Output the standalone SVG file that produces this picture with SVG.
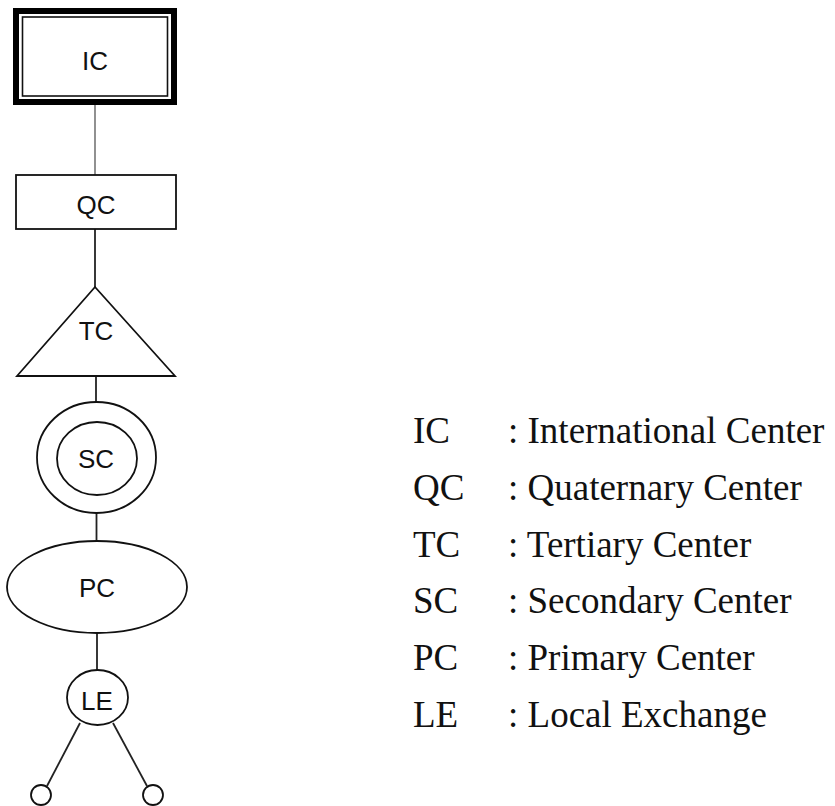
<svg xmlns="http://www.w3.org/2000/svg" width="835" height="806" viewBox="0 0 835 806">
<style>
.shape{fill:#fff;stroke:#111;stroke-width:1.8}
.lbl{font-family:"Liberation Sans",Arial,sans-serif;font-size:26px;fill:#111;text-anchor:middle}
.leg{font-family:"Liberation Serif","Times New Roman",serif;font-size:37px;fill:#111}
.conn line{stroke:#222;stroke-width:1.8}
</style>
<rect width="835" height="806" fill="#fff"/>
<g class="conn" id="connectors">
<line x1="95" y1="105" x2="95" y2="175" style="stroke:#555;stroke-width:1.3"/>
<line x1="95" y1="229" x2="95" y2="287"/>
<line x1="96" y1="376" x2="96" y2="402"/>
<line x1="96.5" y1="513" x2="96.5" y2="541"/>
<line x1="97" y1="633" x2="97" y2="670"/>
<line x1="80" y1="723" x2="47" y2="786"/>
<line x1="113" y1="723" x2="147" y2="786"/>
</g>
<g id="IC">
<rect x="16" y="11" width="158" height="91" fill="#fff" stroke="#000" stroke-width="6"/>
<rect x="22.5" y="17" width="145" height="79" fill="none" stroke="#111" stroke-width="1.6"/>
<text class="lbl" x="95" y="70">IC</text>
</g>
<g id="QC">
<rect class="shape" x="16" y="175" width="160" height="54"/>
<text class="lbl" x="96" y="214">QC</text>
</g>
<g id="TC">
<polygon class="shape" points="95,287 175,376 17,376"/>
<text class="lbl" x="96" y="340">TC</text>
</g>
<g id="SC">
<ellipse class="shape" cx="96.5" cy="457.5" rx="59.5" ry="55.5"/>
<ellipse class="shape" cx="97" cy="458.5" rx="40" ry="36.5"/>
<text class="lbl" x="96" y="468">SC</text>
</g>
<g id="PC">
<ellipse class="shape" cx="97" cy="587" rx="90" ry="46"/>
<text class="lbl" x="97" y="597">PC</text>
</g>
<g id="LE">
<ellipse class="shape" cx="97.5" cy="697.5" rx="30.5" ry="27.5"/>
<text class="lbl" x="97" y="710">LE</text>
</g>
<g id="T1">
<circle class="shape" cx="41" cy="795" r="10"/>
</g>
<g id="T2">
<circle class="shape" cx="153" cy="795" r="10"/>
</g>
<g id="legend">
<text class="leg" x="413" y="443">IC</text><text class="leg" x="508" y="443">: International Center</text>
<text class="leg" x="413" y="500">QC</text><text class="leg" x="508" y="500">: Quaternary Center</text>
<text class="leg" x="413" y="557">TC</text><text class="leg" x="508" y="557">: Tertiary Center</text>
<text class="leg" x="413" y="613">SC</text><text class="leg" x="508" y="613">: Secondary Center</text>
<text class="leg" x="413" y="670">PC</text><text class="leg" x="508" y="670">: Primary Center</text>
<text class="leg" x="413" y="727">LE</text><text class="leg" x="508" y="727">: Local Exchange</text>
</g>
</svg>
